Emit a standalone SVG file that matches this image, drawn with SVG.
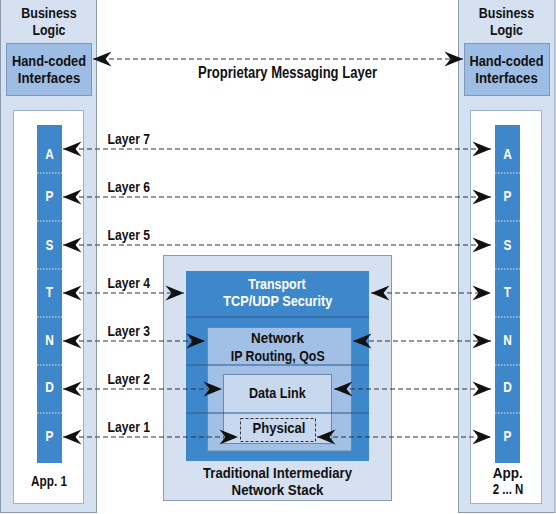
<svg xmlns="http://www.w3.org/2000/svg" width="556" height="514" viewBox="0 0 556 514">
<defs>
<style>
text{font-family:"Liberation Sans",Arial,sans-serif;font-weight:bold;font-size:14.5px;text-anchor:middle;fill:#111}
.w{fill:#fff}
.l{fill:#fff;transform-box:fill-box;transform-origin:center;transform:scaleX(0.82)}
.col{fill:#d5e0f1;stroke:#8c9aae;stroke-width:1}
.hand{fill:#9ebde4;stroke:#7d97bd;stroke-width:1}
.white{fill:#fff;stroke:#9cb0cf;stroke-width:1}
.stack{fill:#3f87cb}
.dot{stroke:#dbe6f5;stroke-width:1;stroke-dasharray:1.5 1.5}
.conn{stroke:#333;stroke-width:1.2;stroke-dasharray:5 3;fill:none;marker-start:url(#ah);marker-end:url(#ah)}
.div{stroke:#2b5a8e;stroke-width:1}
</style>
<marker id="ah" viewBox="-19 -8 20 16" refX="0" refY="0" markerWidth="20" markerHeight="16" markerUnits="userSpaceOnUse" orient="auto-start-reverse">
<path d="M0,0 L-18.5,-7.5 L-12.5,0 L-18.5,7.5 Z" fill="#111"/>
</marker>
</defs>
<rect width="556" height="514" fill="#fff"/>

<g id="app1">
<rect class="col" x="0.5" y="-2" width="96" height="514.5"/>
<text x="49" y="17.5" textLength="55.5" lengthAdjust="spacingAndGlyphs">Business</text>
<text x="49" y="34.5" textLength="33" lengthAdjust="spacingAndGlyphs">Logic</text>
<rect class="hand" x="6.5" y="43.5" width="85" height="52"/>
<text x="49" y="66" textLength="74" lengthAdjust="spacingAndGlyphs">Hand-coded</text>
<text x="49" y="83" textLength="62.5" lengthAdjust="spacingAndGlyphs">Interfaces</text>
<rect class="white" x="13.5" y="110.5" width="70" height="393"/>
<rect class="stack" x="37" y="125" width="25" height="338"/>
<g class="dot"><line x1="37" y1="173" x2="62" y2="173"/><line x1="37" y1="221" x2="62" y2="221"/><line x1="37" y1="269" x2="62" y2="269"/><line x1="37" y1="317" x2="62" y2="317"/><line x1="37" y1="365" x2="62" y2="365"/><line x1="37" y1="413" x2="62" y2="413"/></g>
<text class="l" x="49.5" y="159">A</text>
<text class="l" x="49.5" y="201">P</text>
<text class="l" x="49.5" y="250">S</text>
<text class="l" x="49.5" y="297.5">T</text>
<text class="l" x="49.5" y="345">N</text>
<text class="l" x="49.5" y="392.5">D</text>
<text class="l" x="49.5" y="441.5">P</text>
<text x="49" y="486" textLength="36" lengthAdjust="spacingAndGlyphs">App. 1</text>
</g>

<g id="appN">
<rect class="col" x="458.5" y="-2" width="96.5" height="514.5"/>
<text x="506.5" y="17.5" textLength="55.5" lengthAdjust="spacingAndGlyphs">Business</text>
<text x="506.5" y="34.5" textLength="33" lengthAdjust="spacingAndGlyphs">Logic</text>
<rect class="hand" x="464.5" y="43.5" width="85" height="52"/>
<text x="506.5" y="66" textLength="74" lengthAdjust="spacingAndGlyphs">Hand-coded</text>
<text x="506.5" y="83" textLength="62.5" lengthAdjust="spacingAndGlyphs">Interfaces</text>
<rect class="white" x="470.5" y="110.5" width="71" height="393"/>
<rect class="stack" x="495" y="125" width="25" height="338"/>
<g class="dot"><line x1="495" y1="173" x2="520" y2="173"/><line x1="495" y1="221" x2="520" y2="221"/><line x1="495" y1="269" x2="520" y2="269"/><line x1="495" y1="317" x2="520" y2="317"/><line x1="495" y1="365" x2="520" y2="365"/><line x1="495" y1="413" x2="520" y2="413"/></g>
<text class="l" x="507.5" y="159">A</text>
<text class="l" x="507.5" y="201">P</text>
<text class="l" x="507.5" y="250">S</text>
<text class="l" x="507.5" y="297.5">T</text>
<text class="l" x="507.5" y="345">N</text>
<text class="l" x="507.5" y="392.5">D</text>
<text class="l" x="507.5" y="441.5">P</text>
<text x="507.7" y="478" textLength="30" lengthAdjust="spacingAndGlyphs">App.</text>
<text x="508" y="494" textLength="30.6" lengthAdjust="spacingAndGlyphs">2 ... N</text>
</g>

<g id="netstack">
<rect class="col" x="163.5" y="255.5" width="228" height="245"/>
<rect class="stack" x="186" y="271" width="183" height="190"/>
<rect x="207.5" y="327.5" width="144" height="123.5" fill="#a2bfe5" stroke="#6f86a6"/>
<rect x="223.5" y="374.5" width="108" height="69" fill="#c8d8ef" stroke="#6f86a6"/>
<line class="div" x1="186" y1="317" x2="369" y2="317"/>
<line class="div" x1="186" y1="365" x2="369" y2="365"/>
<line class="div" x1="186" y1="413" x2="369" y2="413"/>
<rect x="240.5" y="418.5" width="75" height="23" fill="none" stroke="#333" stroke-dasharray="3 2"/>
<text class="w" x="277" y="289" textLength="57.4" lengthAdjust="spacingAndGlyphs">Transport</text>
<text class="w" x="277.8" y="306" textLength="109" lengthAdjust="spacingAndGlyphs">TCP/UDP Security</text>
<text x="277.5" y="343" textLength="53" lengthAdjust="spacingAndGlyphs">Network</text>
<text x="277.7" y="361" textLength="94" lengthAdjust="spacingAndGlyphs">IP Routing, QoS</text>
<text x="277.3" y="398" textLength="56.7" lengthAdjust="spacingAndGlyphs">Data Link</text>
<text x="279" y="433" textLength="53" lengthAdjust="spacingAndGlyphs">Physical</text>
<text x="277.5" y="478" textLength="149" lengthAdjust="spacingAndGlyphs">Traditional Intermediary</text>
<text x="277.5" y="495" textLength="92" lengthAdjust="spacingAndGlyphs">Network Stack</text>
</g>

<g id="labels">
<text x="287.5" y="78" style="font-size:16px" textLength="179" lengthAdjust="spacingAndGlyphs">Proprietary Messaging Layer</text>
<text x="128.8" y="144" textLength="42.5" lengthAdjust="spacingAndGlyphs">Layer 7</text>
<text x="128.8" y="192" textLength="42.5" lengthAdjust="spacingAndGlyphs">Layer 6</text>
<text x="128.8" y="240" textLength="42.5" lengthAdjust="spacingAndGlyphs">Layer 5</text>
<text x="128.8" y="288" textLength="42.5" lengthAdjust="spacingAndGlyphs">Layer 4</text>
<text x="128.8" y="336" textLength="42.5" lengthAdjust="spacingAndGlyphs">Layer 3</text>
<text x="128.8" y="384" textLength="42.5" lengthAdjust="spacingAndGlyphs">Layer 2</text>
<text x="128.8" y="432" textLength="42.5" lengthAdjust="spacingAndGlyphs">Layer 1</text>
</g>

<g id="connectors">
<line class="conn" x1="93" y1="59" x2="463" y2="59"/>
<line class="conn" x1="63" y1="149" x2="491" y2="149"/>
<line class="conn" x1="63" y1="197" x2="491" y2="197"/>
<line class="conn" x1="63" y1="245" x2="491" y2="245"/>
<line class="conn" x1="63" y1="293" x2="184" y2="293"/>
<line class="conn" x1="371" y1="293" x2="491" y2="293"/>
<line class="conn" x1="63" y1="341" x2="205" y2="341"/>
<line class="conn" x1="353" y1="341" x2="491" y2="341"/>
<line class="conn" x1="63" y1="389" x2="222" y2="389"/>
<line class="conn" x1="334" y1="389" x2="491" y2="389"/>
<line class="conn" x1="63" y1="437" x2="238" y2="437"/>
<line class="conn" x1="317" y1="437" x2="491" y2="437"/>
</g>
</svg>
